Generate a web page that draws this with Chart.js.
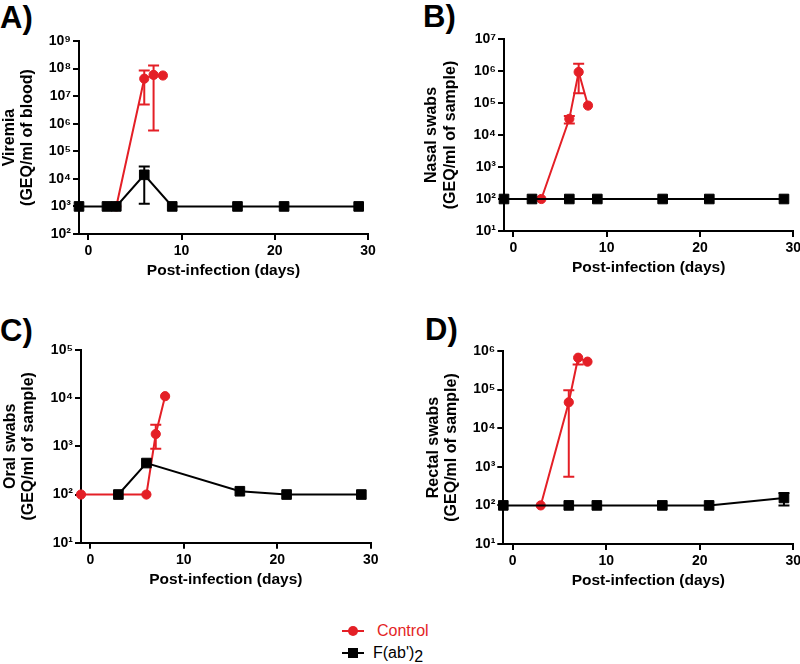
<!DOCTYPE html>
<html>
<head>
<meta charset="utf-8">
<script src="https://cdn.jsdelivr.net/npm/chart.js@4.4.0/dist/chart.umd.min.js"></script>
<style>
  html, body { margin: 0; padding: 0; background: #fff; overflow: hidden; }
  body { width: 800px; height: 664px; position: relative; font-family: "Liberation Sans", Arial, "DejaVu Sans", sans-serif; }
  canvas { position: absolute; }
  .tag { position: absolute; font-weight: bold; font-size: 31px; line-height: 31px; }
  .leg { position: absolute; font-size: 16px; line-height: 16px; }
  .legline { position: absolute; height: 2px; width: 22px; }
  .legmark { position: absolute; width: 10px; height: 10px; }
</style>
</head>
<body>
<div class="tag" style="left:0px; top:2px;">A)</div>
<div class="tag" style="left:423px; top:1px;">B)</div>
<div class="tag" style="left:0px; top:315px;">C)</div>
<div class="tag" style="left:425px; top:314px;">D)</div>

<canvas id="chartA" width="400" height="310" style="left:0px; top:0px;"></canvas>
<canvas id="chartB" width="420" height="310" style="left:400px; top:0px;"></canvas>
<canvas id="chartC" width="400" height="300" style="left:0px; top:320px;"></canvas>
<canvas id="chartD" width="420" height="300" style="left:400px; top:320px;"></canvas>

<!-- shared legend -->
<div class="legline" style="left:342px; top:630px; background:#e41f26;"></div>
<div class="legmark" style="left:348px; top:626px; border-radius:50%; background:#e41f26;"></div>
<div class="leg" style="left:377px; top:623px; color:#e41f26;">Control</div>
<div class="legline" style="left:342px; top:652px; background:#000;"></div>
<div class="legmark" style="left:348px; top:648px; background:#000;"></div>
<div class="leg" style="left:373px; top:645px; color:#000;">F(ab')<span style="position:relative; top:4px;">2</span></div>

<script>
const RED = '#e41f26';
const BLACK = '#000000';
const FONT = '"Liberation Sans", Arial, "DejaVu Sans", sans-serif';

const xTicks = [0, 10, 20, 30];

// A) viremia
const daysFabA = [-1, 2, 3, 6, 9, 16, 21, 29];
const viremiaFab = [1e3, 1e3, 1e3, 1.4e4, 1e3, 1e3, 1e3, 1e3];
const viremiaFabLo = [null, null, null, 1.25e3, null, null, null, null];
const viremiaFabHi = [null, null, null, 2.8e4, null, null, null, null];
const daysCtrlA = [3, 6, 7, 8];
const viremiaCtrl = [1e3, 4.3e7, 5.9e7, 5.6e7];
const viremiaCtrlLo = [null, 5e6, 5.7e5, null];
const viremiaCtrlHi = [null, 8.5e7, 1.3e8, null];

// B) nasal swabs
const daysFabB = [-1, 2, 6, 9, 16, 21, 29];
const nasalFab = [100, 100, 100, 100, 100, 100, 100];
const daysCtrlB = [3, 6, 7, 8];
const nasalCtrl = [100, 3.2e4, 9.3e5, 8.3e4];
const nasalCtrlLo = [null, 2.3e4, 2e5, null];
const nasalCtrlHi = [null, 3.9e4, 1.7e6, null];

// C) oral swabs
const daysFabC = [3, 6, 16, 21, 29];
const oralFab = [100, 450, 117, 100, 100];
const daysCtrlC = [-1, 6, 7, 8];
const oralCtrl = [100, 100, 1.8e3, 1.1e4];
const oralCtrlLo = [null, null, 8.9e2, null];
const oralCtrlHi = [null, null, 2.8e3, null];

// D) rectal swabs
const daysFabD = [-1, 6, 9, 16, 21, 29];
const rectalFab = [100, 100, 100, 100, 100, 156];
const rectalFabLo = [null, null, null, null, null, 100];
const rectalFabHi = [null, null, null, null, null, 210];
const daysCtrlD = [3, 6, 7, 8];
const rectalCtrl = [100, 4.7e4, 6.7e5, 5.3e5];
const rectalCtrlLo = [null, 5.5e2, 4.5e5, null];
const rectalCtrlHi = [null, 9.6e4, null, null];

const SUP = { 1: '¹', 2: '²', 3: '³', 4: '⁴', 5: '⁵', 6: '⁶', 7: '⁷', 8: '⁸', 9: '⁹' };

// mean ± error drawn right after each dataset so black stays on top
const errorBars = {
  id: 'errorBars',
  afterDatasetDraw(chart, args) {
    const ds = chart.data.datasets[args.index];
    if (!ds.errLo) return;
    const { ctx, scales: { x, y } } = chart;
    ctx.save();
    ctx.strokeStyle = ds.borderColor;
    ctx.lineWidth = 2;
    ds.data.forEach((p, i) => {
      const px = x.getPixelForValue(p.x), py = y.getPixelForValue(p.y);
      [ds.errLo[i], ds.errHi[i]].forEach(v => {
        if (v == null) return;
        const ey = y.getPixelForValue(v);
        ctx.beginPath();
        ctx.moveTo(px, py); ctx.lineTo(px, ey);
        ctx.moveTo(px - 5.5, ey); ctx.lineTo(px + 5.5, ey);
        ctx.stroke();
      });
    });
    ctx.restore();
  }
};

function pts(days, vals) {
  return days.map((d, i) => ({ x: d, y: vals[i] }));
}

function fabSet(days, vals, lo, hi) {
  return {
    data: pts(days, vals), errLo: lo, errHi: hi,
    borderColor: BLACK, backgroundColor: BLACK, borderWidth: 2,
    pointStyle: 'rect', pointRadius: 6.8, pointBorderWidth: 1, clip: false
  };
}

function ctrlSet(days, vals, lo, hi) {
  return {
    data: pts(days, vals), errLo: lo, errHi: hi,
    borderColor: RED, backgroundColor: RED, borderWidth: 2,
    pointStyle: 'circle', pointRadius: 4.6, pointBorderWidth: 1, clip: false
  };
}

function makeChart(id, datasets, yTitle, yMinExp, yMaxExp, pad, yWidth) {
  const powers = [];
  for (let e = yMinExp; e <= yMaxExp; e++) powers.push(Math.pow(10, e));
  new Chart(document.getElementById(id), {
    type: 'line',
    data: { datasets },
    plugins: [errorBars],
    options: {
      responsive: false,
      animation: false,
      layout: { padding: pad },
      plugins: { legend: { display: false }, tooltip: { enabled: false } },
      scales: {
        x: {
          type: 'linear', min: -1, max: 30,
          afterBuildTicks: ax => { ax.ticks = xTicks.map(v => ({ value: v })); },
          afterFit: ax => { ax.height = 46; },
          grid: { drawOnChartArea: false, drawTicks: true, tickLength: 6, color: BLACK, lineWidth: 2 },
          border: { color: BLACK, width: 2 },
          ticks: { color: BLACK, padding: 3, maxRotation: 0, font: { family: FONT, size: 14, weight: 'bold' } },
          title: { display: true, text: 'Post-infection (days)', color: BLACK, padding: 0,
                   font: { family: FONT, size: 15.5, weight: 'bold', lineHeight: 1.2 } }
        },
        y: {
          type: 'logarithmic', min: powers[0], max: powers[powers.length - 1],
          afterBuildTicks: ax => { ax.ticks = powers.map(v => ({ value: v })); },
          afterFit: ax => { ax.width = yWidth; },
          grid: { drawOnChartArea: false, drawTicks: true, tickLength: 6, color: BLACK, lineWidth: 2 },
          border: { color: BLACK, width: 2 },
          ticks: {
            color: BLACK, padding: 2, font: { family: FONT, size: 14, weight: 'bold' },
            callback: v => '10' + SUP[Math.round(Math.log10(v))]
          },
          title: { display: true, text: yTitle, color: BLACK, padding: 0,
                   font: { family: FONT, size: 16, weight: 'bold', lineHeight: 1.15 } }
        }
      }
    }
  });
}

makeChart('chartA',
  [fabSet(daysFabA, viremiaFab, viremiaFabLo, viremiaFabHi), ctrlSet(daysCtrlA, viremiaCtrl, viremiaCtrlLo, viremiaCtrlHi)],
  ['Viremia', '(GEQ/ml of blood)'], 2, 9,
  { left: 0, right: 32, top: 41, bottom: 30 }, 79);

makeChart('chartB',
  [fabSet(daysFabB, nasalFab, null, null), ctrlSet(daysCtrlB, nasalCtrl, nasalCtrlLo, nasalCtrlHi)],
  ['Nasal swabs', '(GEQ/ml of sample)'], 1, 7,
  { left: 22.5, right: 26.7, top: 39, bottom: 33 }, 81.5);

makeChart('chartC',
  [fabSet(daysFabC, oralFab, null, null), ctrlSet(daysCtrlC, oralCtrl, oralCtrlLo, oralCtrlHi)],
  ['Oral swabs', '(GEQ/ml of sample)'], 1, 5,
  { left: 1, right: 29.3, top: 30, bottom: 31.3 }, 80);

makeChart('chartD',
  [fabSet(daysFabD, rectalFab, rectalFabLo, rectalFabHi), ctrlSet(daysCtrlD, rectalCtrl, rectalCtrlLo, rectalCtrlHi)],
  ['Rectal swabs', '(GEQ/ml of sample)'], 1, 6,
  { left: 24, right: 26.7, top: 31, bottom: 30 }, 79.3);
</script>
</body>
</html>
